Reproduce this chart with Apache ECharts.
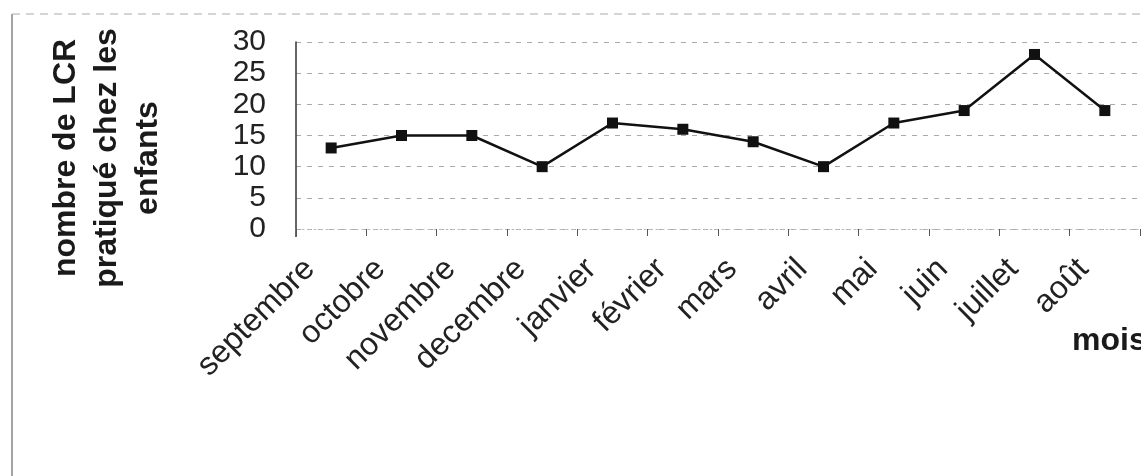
<!DOCTYPE html>
<html>
<head>
<meta charset="utf-8">
<script src="https://cdn.jsdelivr.net/npm/echarts@6/dist/echarts.min.js"></script>
<style>
html,body{margin:0;padding:0;background:#fff;}
#chart{width:1141px;height:476px;}
</style>
</head>
<body>
<div id="chart"></div>
<script>
const months = ['septembre','octobre','novembre','decembre','janvier','février','mars','avril','mai','juin','juillet','août'];
const lcrCounts = [13,15,15,10,17,16,14,10,17,19,28,19];
const yTicks = {min:0, max:30, interval:5};
const yTitleLines = ['nombre de LCR','pratiqué chez les','enfants'];
const xTitle = 'mois';

const chart = echarts.init(document.getElementById('chart'), null, {renderer:'canvas'});
const FONT = '"Liberation Sans", Arial, sans-serif';
chart.setOption({
  animation:false,
  backgroundColor:'#ffffff',
  grid:{left:296, right:1, top:42, bottom:247, containLabel:false},
  xAxis:{
    type:'category',
    data:months,
    boundaryGap:true,
    axisLine:{show:true, lineStyle:{color:'#bbb', width:1, type:[2,4]}},
    axisTick:{show:true, alignWithLabel:false, length:7, lineStyle:{color:'#555', width:1}},
    axisLabel:{rotate:45, fontSize:32, fontFamily:FONT, color:'#222', margin:14, padding:[0,30,0,0], interval:0}
  },
  yAxis:{
    type:'value',
    min:yTicks.min, max:yTicks.max, interval:yTicks.interval,
    axisLine:{show:true, lineStyle:{color:'#333', width:1.5}},
    axisTick:{show:false},
    axisLabel:{fontSize:30, fontFamily:FONT, color:'#222', margin:30},
    splitLine:{show:true, lineStyle:{color:'#aaa', width:1, type:[5,6]}}
  },
  series:[{
    type:'line',
    data:lcrCounts,
    symbol:'rect',
    symbolSize:11,
    lineStyle:{color:'#111', width:2.5},
    itemStyle:{color:'#111'}
  }],
  graphic:[
    {type:'line', shape:{x1:12, y1:14, x2:12, y2:476}, style:{stroke:'#666', lineWidth:1.2}},
    {type:'line', shape:{x1:12, y1:14, x2:1141, y2:14}, style:{stroke:'#aaa', lineWidth:1, lineDash:[8,6]}},
    {type:'line', shape:{x1:296, y1:229, x2:296, y2:237}, style:{stroke:'#333', lineWidth:1.5}},
    {type:'text', x:107, y:158, rotation:Math.PI/2,
      style:{text:yTitleLines.join('\n'), font:'bold 32px ' + FONT, fill:'#1a1a1a', align:'center', verticalAlign:'middle', lineHeight:41}},
    {type:'text', x:1072, y:341,
      style:{text:xTitle, font:'bold 32px ' + FONT, fill:'#1a1a1a', align:'left', verticalAlign:'middle'}}
  ]
});
</script>
</body>
</html>
